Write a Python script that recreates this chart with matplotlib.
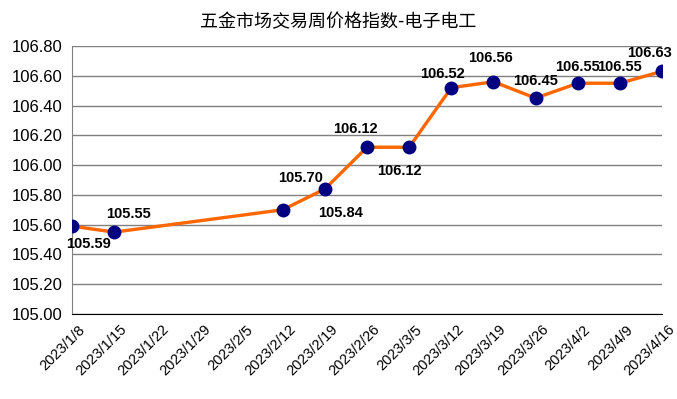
import matplotlib
matplotlib.use("Agg")
import matplotlib.pyplot as plt
import matplotlib.transforms as mtransforms
import numpy as np

plt.rcParams['font.family'] = ['Liberation Sans', 'Noto Sans CJK SC', 'DejaVu Sans']

dates = ["2023/1/8", "2023/1/15", "2023/1/22", "2023/1/29", "2023/2/5", "2023/2/12",
         "2023/2/19", "2023/2/26", "2023/3/5", "2023/3/12", "2023/3/19", "2023/3/26",
         "2023/4/2", "2023/4/9", "2023/4/16"]
values = [105.59, 105.55, None, None, None, 105.70, 105.84, 106.12, 106.12,
          106.52, 106.56, 106.45, 106.55, 106.55, 106.63]
title = "五金市场交易周价格指数-电子电工"

# label offsets in points (dx, dy) per present point
label_offsets = [(12, -13), (10, 13), (13, 23), (11, -17), (-8, 13), (-7, -17),
                 (-6, 10), (-2, 17), (0, 12), (0, 12), (0, 12), (-9, 13)]

fig = plt.figure(figsize=(6.77, 3.99), dpi=100)
ax = fig.add_axes([0.1064, 0.213, 0.8715, 0.6717])

xs = [i for i, v in enumerate(values) if v is not None]
ys = [v for v in values if v is not None]

ax.plot(xs, ys, color='#FF6600', lw=2.4, marker='o', markersize=9,
        markerfacecolor='#000080', markeredgecolor='#000080', zorder=3)

for (x, y), (dx, dy) in zip(zip(xs, ys), label_offsets):
    ax.annotate(f"{y:.2f}", (x, y), xytext=(dx, dy), textcoords='offset points',
                ha='center', va='center', fontsize=10.5, fontweight='bold', color='black')

ax.set_xlim(0, len(dates) - 1)
ax.set_ylim(105.0, 106.8)
ax.set_yticks(np.arange(105.0, 106.81, 0.2))
ax.set_yticklabels([f"{t:.2f}" for t in np.arange(105.0, 106.81, 0.2)], fontsize=12)
ax.set_xticks(range(len(dates)))
ax.set_xticklabels(dates, rotation=45, ha='right', rotation_mode='anchor', fontsize=10.5)
ax.tick_params(axis='both', length=0)
ax.tick_params(axis='y', pad=7)
ax.tick_params(axis='x', pad=6)
shift = mtransforms.ScaledTranslation(4 / 72, 0, fig.dpi_scale_trans)
for lbl in ax.get_xticklabels():
    lbl.set_transform(lbl.get_transform() + shift)

ax.grid(axis='y', color='#808080', lw=1)
ax.set_axisbelow(True)
for s in ['top', 'right']:
    ax.spines[s].set_visible(False)
ax.spines['left'].set_color('#808080')
ax.spines['bottom'].set_color('black')
ax.spines['bottom'].set_zorder(2.5)

fig.text(0.5, 0.945, title, ha='center', va='center', fontsize=13,
         family=['Noto Sans CJK SC', 'DejaVu Sans'])

fig.savefig("out.png", dpi=100)
